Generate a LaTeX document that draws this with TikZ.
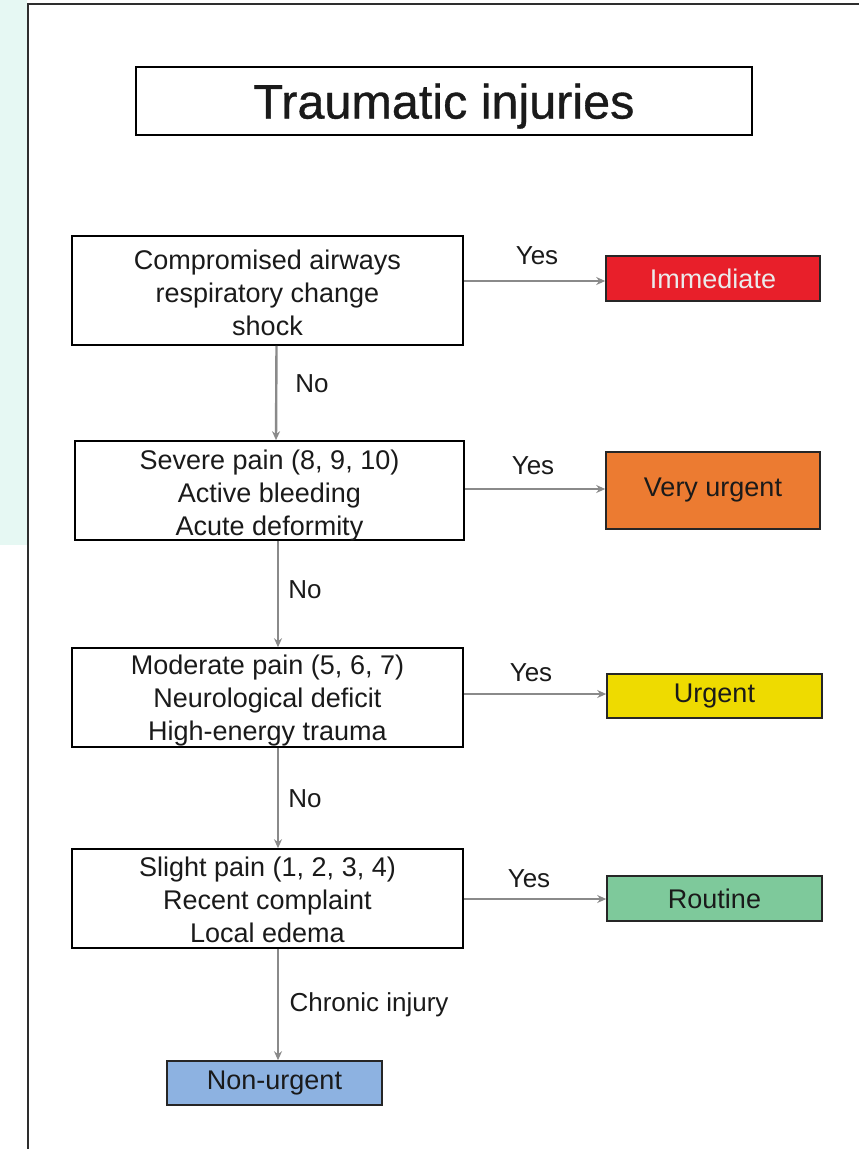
\documentclass[tikz,border=0pt]{standalone}
\usepackage{fontspec}
\setmainfont{Liberation Sans}
\newfontfamily\titlefont[FakeBold=0.7]{Liberation Sans}
\usetikzlibrary{arrows.meta}
\definecolor{mint}{HTML}{E6F8F3}
\definecolor{framecol}{HTML}{2E2E2E}
\definecolor{inkcol}{HTML}{1A1A1A}
\definecolor{arrowcol}{HTML}{8A8A8A}
\definecolor{cImmediate}{HTML}{E81F2A}
\definecolor{cVeryUrgent}{HTML}{EC7B31}
\definecolor{cUrgent}{HTML}{EEDB00}
\definecolor{cRoutine}{HTML}{7EC99B}
\definecolor{cNonUrgent}{HTML}{8DB2E1}
\tikzset{
  crit/.style={draw=black, line width=1.6pt, fill=white,
    minimum width=391pt, minimum height=99pt, inner sep=0pt},
  crittext/.style={text=inkcol, align=center, inner sep=0pt,
    font=\fontsize{27}{33}\selectfont},
  level/.style={draw=black!85, line width=1.6pt, text=inkcol,
    minimum width=214pt, minimum height=45pt, inner sep=0pt,
    font=\fontsize{27}{30}\selectfont},
  lbl/.style={text=inkcol, inner sep=0pt, font=\fontsize{26}{30}\selectfont},
  flow/.style={draw=arrowcol, line width=2.4pt,
    -{Stealth[length=9pt,width=8pt]}},
}
\begin{document}
\begin{tikzpicture}[x=1pt,y=-1pt]
\useasboundingbox (0,0) rectangle (859,1149);
\clip (0,0) rectangle (859,1149);
% side band and outer frame
\fill[mint] (0,0) rectangle (27,545);
\draw[framecol, line width=2.4pt] (28,1160) -- (28,4) -- (870,4);

% title
\node[draw=black, line width=1.6pt, minimum width=616pt, minimum height=68pt,
  inner sep=0pt, text=inkcol, text depth=0pt,
  font=\titlefont\fontsize{48.5}{50}\selectfont]
  (title) at (444,101) {Traumatic injuries};

% criteria boxes
\node[crit, minimum height=109pt,
  label={[crittext, yshift=-2pt]center:Compromised airways\\respiratory change\\shock}]
  (b1) at (267.5,290.5) {};
\node[crit, minimum width=389pt,
  label={[crittext, yshift=-5pt]center:Severe pain (8, 9, 10)\\Active bleeding\\Acute deformity}]
  (b2) at (269.5,490.5) {};
\node[crit,
  label={[crittext, yshift=-3pt]center:Moderate pain (5, 6, 7)\\Neurological deficit\\High-energy trauma}]
  (b3) at (267.5,697.5) {};
\node[crit,
  label={[crittext, yshift=-1pt]center:Slight pain (1, 2, 3, 4)\\Recent complaint\\Local edema}]
  (b4) at (267.5,898.5) {};

% urgency levels
\node[level, fill=cImmediate, text=white!92!black] (r1) at (713,278.5) {Immediate};
\node[level, fill=cVeryUrgent, minimum height=77pt] (r2) at (713,490.5) {Very urgent};
\node[level, fill=cUrgent, minimum width=215pt, minimum height=44pt] (r3) at (714.5,696) {Urgent};
\node[level, fill=cRoutine, minimum width=215pt] (r4) at (714.5,898.5) {Routine};
\node[level, fill=cNonUrgent, minimum width=215pt, minimum height=44pt] (r5) at (274.5,1083) {Non-urgent};

% yes branches
\draw[flow] (b1.east |- 0,281) -- (r1.west |- 0,281);
\draw[flow] (b2.east |- 0,489) -- (r2.west |- 0,489);
\draw[flow] (b3.east |- 0,694) -- (r3.west |- 0,694);
\draw[flow] (b4.east |- 0,899) -- (r4.west |- 0,899);
\node[lbl] (y1) at (537,256) {Yes};
\node[lbl] (y2) at (533,466) {Yes};
\node[lbl] (y3) at (531,673) {Yes};
\node[lbl] (y4) at (529,879) {Yes};

% no branches
\draw[flow] ([xshift=9pt]b1.south) -- ([xshift=6.5pt]b2.north);
\draw[flow] ([xshift=8.5pt]b2.south) -- ([xshift=10.5pt]b3.north);
\draw[flow] ([xshift=10.5pt]b3.south) -- ([xshift=10.5pt]b4.north);
\draw[flow] ([xshift=10.5pt]b4.south) -- ([xshift=3.5pt]r5.north);
\node[lbl] (n1) at (312,384) {No};
\node[lbl] (n2) at (305,590) {No};
\node[lbl] (n3) at (305,799) {No};
\node[lbl] (n4) at (369,1005) {Chronic injury};
\end{tikzpicture}
\end{document}
